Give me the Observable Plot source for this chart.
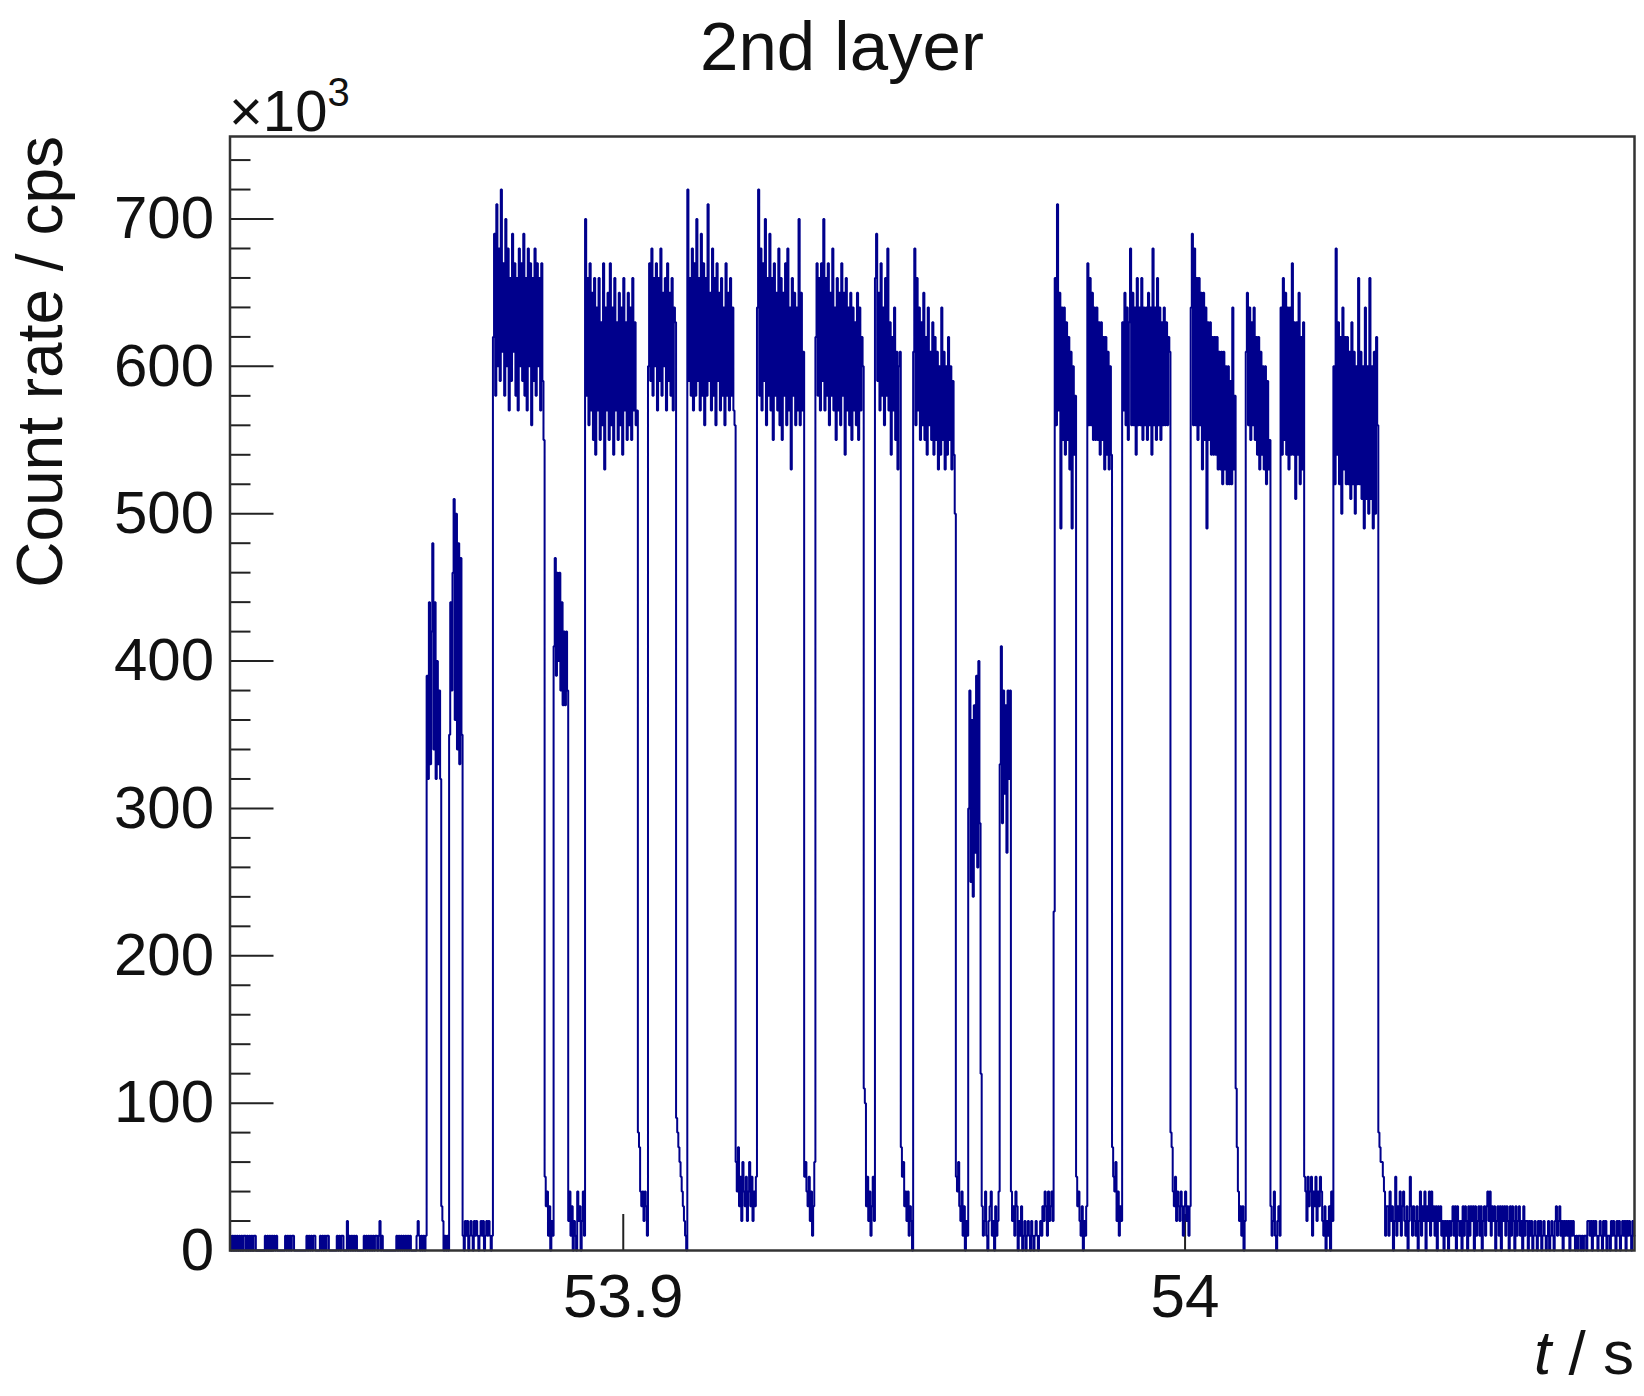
<!DOCTYPE html>
<html>
<head>
<meta charset="utf-8">
<script src="https://cdn.jsdelivr.net/npm/d3@7"></script>
<script src="https://cdn.jsdelivr.net/npm/@observablehq/plot@0.6"></script>
<style>
  html, body { margin: 0; padding: 0; background: #fff; }
  #chart svg { display: block; }
</style>
</head>
<body>
<div id="chart"></div>
<script>
// ---------------- data ----------------
const titleText = "2nd layer";
const yTitle = "Count rate / cps";
const yMultiplier = "×10";
const yMultiplierExp = "3";
const xDomain = [53.83, 54.08];
const yDomain = [0, 756];
const yMajorTicks = [0, 100, 200, 300, 400, 500, 600, 700];
const yMinorTicks = [20, 40, 60, 80, 120, 140, 160, 180, 220, 240, 260, 280, 320, 340, 360, 380,
  420, 440, 460, 480, 520, 540, 560, 580, 620, 640, 660, 680, 720, 740];
const xMajorTicks = [53.9, 54];
const xTickLabels = ["53.9", "54"];

const tStart = 53.83;        // s, left edge of first bin
const binWidth = 0.0002;     // s
const kcpsPerCount = 10;     // 1 count per bin shown as 10 ×10^3 cps

// counts per bin
const preBeam = [1,0,1,0,1,0,1,0,1,0,1,0,1,1, 0, 1,0,1,0,1,0,1,1, 0,0,0,0,0,0,0,0,
  1,0,1,0,1,0,1,0,1,0,1, 0,0,0,0,0,0,0, 1,0,1,0,1,0,1,1, 0,0,0,0,0,0,0,0,0,0,0,
  1,0,1,0,1,0,1,1, 0,0,0,0, 1,0,1,0,1,0,1,1, 0,0,0,0,0,0,0, 1,0,1,0,1,1, 0,0,0,
  2,0,1,0,1,0,1,0,1, 0,0,0,0,0,0, 1,0,1,0,1, 0, 1,0,1,0,1,1, 0, 1,2,0,1,
  0,0,0,0,0,0,0,0,0,0,0,0, 1,0,1,0,1,0,1,0,1,0,1,0,1, 0,0,0,0,0, 1,2,1,0,1,0,1,0,1];

const burstsEarly = [
  39,32,44,33,42,48,34,44,32,40,33,38,32,
  3,2,0,1,0,1,0,
  35,44,38,46,51,36,50,34,48,33,47,35,
  1,0,2,1,2,0,1,2,1,0,2,1,2,1,0,1,2,1,2,0,1,2,1,2,1,0,1,
  62,69,58,71,60,68,59,72,61,67,58,70,60,68,57,66,59,69,61,67,58,66,57,68,60,67,59,69,58,66,57,68,60,67,56,66,59,68,58,67,60,66,57,67,59,55,
  5,3,4,1,3,0,2,1,
  41,47,39,46,40,46,38,44,37,42,37,42,38,
  2,4,1,3,0,2,1,0,4,2,3,0,2,4,1,
  70,58,66,56,67,57,65,55,66,54,64,57,66,55,63,56,67,53,64,57,65,55,67,56,64,54,66,57,63,55,65,56,64,54,66,57,63,55,65,56,64,55,66,57,63,56,57,
  8,7,4,3,4,2,4,3,1,
  60,67,59,68,58,66,60,67,57,66,59,68,58,65,60,66,57,67,59,65,58,66,57,64,63,
  9,8,7,6,5,4,3,2,1,0];

const burstsMiddle = [
  72,59,66,58,68,57,67,58,70,59,66,57,69,58,67,56,66,58,71,59,65,57,68,58,66,56,67,59,65,57,66,58,64,56,67,58,65,57,66,58,64,57,56,
  6,4,7,3,5,2,6,4,3,5,2,4,6,3,5,2,4,3,5,
  64,72,58,68,57,67,59,70,56,66,58,69,57,66,55,67,58,65,57,68,56,66,55,65,58,67,56,68,57,64,53,66,58,65,56,64,57,70,56,65,57,61,
  5,6,4,3,5,2,4,1,3,6,
  62,67,58,66,57,67,59,70,57,66,58,67,56,65,58,68,57,64,55,66,57,65,56,67,58,65,54,66,57,64,56,65,55,64,57,63,56,65,55,64,57,62,60,
  11,10,3,5,2,4,1,3,5,2,
  66,69,59,65,57,67,58,64,56,66,58,68,57,63,54,62,57,64,55,61,53,60,61,
  7,5,6,3,4,2,4,1,3,2,0,
  61,68,56,66,57,64,55,63,56,65,55,62,54,64,56,61,55,63,54,62,55,61,53,60,54,64,55,61,53,60,54,62,55,60,53,59,54,50,
  5,4,6,3,2,4,1,3,0,2,1,
  30,38,25,36,24,37,27,39,26,40,29,
  12,3,1,2,4,1,0,2,3,4,1,2,0,3,1,2,4,
  33,41,29,38,31,37,27,38,32,38,
  4,2,3,1,4,3,0,2,1,3,0,1,2,0,1,2,1,0,2,1,0,1,2,1,0,1,2,1,3,2,4,3,1,4,2,3,4,2];

const burstsLate = [
  23,66,56,71,57,65,49,64,55,64,54,63,55,62,53,61,49,60,54,58,
  5,3,4,2,1,3,0,2,1,3,
  67,56,66,56,65,55,64,55,64,55,63,54,63,55,62,53,62,54,61,53,60,54,
  7,5,4,6,2,4,1,3,2,
  63,57,65,56,64,55,63,68,56,65,56,64,54,66,56,64,56,66,55,64,56,64,55,65,56,64,54,68,56,64,55,66,56,64,55,63,56,64,56,63,56,62,61,
  8,7,4,3,5,2,4,3,2,4,3,1,3,4,2,3,1,3,
  64,69,56,68,56,66,55,66,56,65,53,65,55,64,49,63,55,63,54,62,54,62,54,62,53,61,53,61,52,61,53,60,52,60,52,59,52,64,53,58,
  11,7,4,2,3,1,3,0,2,
  61,65,56,64,55,63,56,64,55,62,54,62,53,61,54,60,53,60,52,59,53,55,
  3,1,2,4,1,0,2,3,1,
  64,54,66,55,65,54,64,53,64,54,67,54,63,51,63,54,65,52,62,53,63,
  5,4,2,5,3,4,5,1,4,3,5,2,4,3,5,4,2,1,3,0,2,1,3,0,4,2,
  60,52,68,54,63,52,62,50,64,53,62,52,62,52,61,51,63,52,61,50,60,52,66,52,61,51,60,49,64,51,60,50,66,51,60,49,61,50,62,56];

const afterBeam = [8,7,6,6,5, 4,1,3,
  3,1,4,2,3,0,2,5,1,3,2,4,1,3,4,2,1,3,0,2,5,3,1,3,2,1,3,0,2,
  4,1,3,2,4,0,3,2,4,1,4,2,3,1,3,0,3,2,3,1,2,0,2,1,2,0,2,1,2,3,
  1,3,0,3,2,1,2,0,3,1,3,2,0,3,1,3,2,3,0,3,1,2,3,1,3,0,2,3,1,3,
  4,2,4,1,3,2,3,0,2,3,1,3,0,3,2,3,1,3,2,0,3,1,3,2,0,3,1,2,3,1,
  2,0,3,1,2,2,0,2,1,2,0,1,2,1,0,2,1,2,0,1,2,1,0,1,2,0,1,2,1,0,
  2,3,1,2,3,1,2,0,2,1,2,1,2,0,2,1,2,1,0,1,0,1,1,0,1,0,1,1,0,2,
  2,1,2,0,2,1,2,1,0,1,2,1,0,2,1,2,0,1,1,0,2,1,2,1,0,2,1,2,0,1,2,1,2,0,2,1,2,1,0,2,1];

// ---------------- build ----------------
const counts = [].concat(preBeam, burstsEarly, burstsMiddle, burstsLate, afterBeam);
const hist = counts.map((c, i) => ({t: tStart + i * binWidth, rate: c * kcpsPerCount}));
hist.push({t: tStart + counts.length * binWidth, rate: counts[counts.length - 1] * kcpsPerCount});

const W = 1644, H = 1396;
const mL = 229.5, mR = 10, mT = 136, mB = 146;
const frameW = W - mL - mR, frameH = H - mT - mB;
const font = "'Liberation Sans', Arial, Helvetica, sans-serif";
const ink = "#111";
const lineColor = "#00008c";

const svg = Plot.plot({
  width: W, height: H,
  marginLeft: mL, marginRight: mR, marginTop: mT, marginBottom: mB,
  x: {domain: xDomain},
  y: {domain: yDomain},
  style: {fontFamily: font, background: "#fff", color: ink, overflow: "visible"},
  marks: [
    Plot.tickY(yMinorTicks, {insetRight: frameW - 21, stroke: "#222", strokeWidth: 2}),
    Plot.tickY(yMajorTicks, {insetRight: frameW - 44, stroke: "#222", strokeWidth: 2}),
    Plot.tickX(xMajorTicks, {insetTop: frameH - 36, stroke: "#222", strokeWidth: 2}),
    Plot.axisY({ticks: yMajorTicks, tickSize: 0, tickPadding: 16, fontSize: 60, label: null,
      tickFormat: d => String(d)}),
    Plot.axisX({ticks: xMajorTicks, tickSize: 0, tickPadding: 22, fontSize: 62, label: null,
      tickFormat: d => xTickLabels[xMajorTicks.indexOf(d)]}),
    Plot.line(hist, {x: "t", y: "rate", curve: "step-after", stroke: lineColor, strokeWidth: 2,
      strokeLinejoin: "miter"}),
    Plot.frame({stroke: "#333", strokeWidth: 2.5})
  ]
});

const s = d3.select(svg);
s.append("text")
  .attr("x", 842).attr("y", 70)
  .attr("text-anchor", "middle")
  .style("font-family", font).style("font-size", "69px").attr("fill", ink)
  .text(titleText);

const mult = s.append("text")
  .attr("x", 229).attr("y", 131)
  .attr("text-anchor", "start")
  .style("font-family", font).style("font-size", "58px").attr("fill", ink);
mult.append("tspan").text(yMultiplier);
mult.append("tspan").attr("dy", -25).style("font-size", "40px").text(yMultiplierExp);

s.append("text")
  .attr("transform", `translate(62,${mT}) rotate(-90)`)
  .attr("text-anchor", "end")
  .style("font-family", font).style("font-size", "64px").attr("fill", ink)
  .text(yTitle);

const xl = s.append("text")
  .attr("x", W - mR).attr("y", 1374)
  .attr("text-anchor", "end")
  .style("font-family", font).style("font-size", "62px").attr("fill", ink);
xl.append("tspan").style("font-style", "italic").text("t");
xl.append("tspan").text(" / s");

document.getElementById("chart").appendChild(svg);
</script>
</body>
</html>
